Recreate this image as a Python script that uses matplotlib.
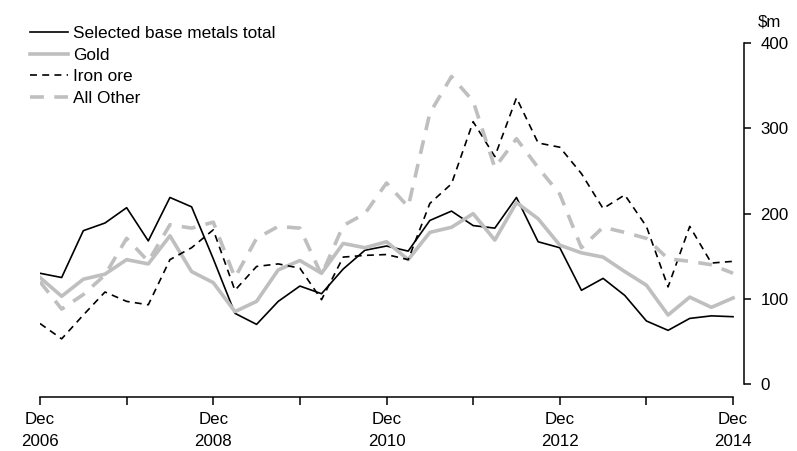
import numpy as np
import pandas as pd
import matplotlib
matplotlib.use('Agg')
import matplotlib.pyplot as plt

plt.rcParams['font.family'] = ['Liberation Sans', 'DejaVu Sans']
plt.rcParams['lines.scale_dashes'] = False

# quarterly, Dec 2006 .. Dec 2014
quarters = pd.period_range('2006Q4', '2014Q4', freq='Q')

base_metals = [130, 125, 180, 189, 207, 168, 219, 208, 147, 83, 70, 97, 115,
               106, 135, 157, 162, 156, 192, 203, 186, 183, 219, 167, 160,
               110, 124, 104, 74, 63, 77, 80, 79]
gold = [125, 103, 123, 129, 146, 141, 174, 132, 119, 85, 97, 134, 145, 130,
        165, 160, 167, 146, 178, 184, 200, 169, 213, 194, 163, 154, 149, 132,
        116, 81, 102, 90, 101]
iron_ore = [71, 53, 81, 108, 97, 93, 146, 160, 181, 110, 138, 141, 136, 99,
            149, 151, 152, 146, 212, 235, 308, 267, 336, 283, 278, 247, 206,
            222, 185, 114, 185, 142, 144]
all_other = [120, 88, 105, 128, 171, 144, 187, 183, 190, 125, 171, 185, 183,
             128, 186, 200, 236, 208, 318, 361, 332, 254, 288, 254, 223, 160,
             184, 178, 171, 147, 144, 140, 130]

labels = ['Selected base metals total', 'Gold', 'Iron ore', 'All Other']
grey = '#bfbfbf'

W, H = 797, 451
fig = plt.figure(figsize=(W / 100, H / 100), dpi=100)
ax = fig.add_axes([40 / W, (H - 384) / H, 704.3 / W, 340.7 / H])

x = np.arange(len(quarters))
ax.plot(x, base_metals, color='black', lw=1.2, label=labels[0])
ax.plot(x, gold, color=grey, lw=2.6, label=labels[1])
ax.plot(x, iron_ore, color='black', lw=1.2, dashes=(5, 3.8), label=labels[2])
ax.plot(x, all_other, color=grey, lw=2.6, dashes=(10, 7.5), label=labels[3])

ax.set_xlim(0, 32.52)
ax.set_ylim(0, 400)

for s in ['left', 'top']:
    ax.spines[s].set_visible(False)
ax.spines['right'].set_bounds(0, 400)
ax.spines['bottom'].set_bounds(0, 32)
ax.spines['bottom'].set_position(('outward', 9.1))
for s in ['right', 'bottom']:
    ax.spines[s].set_linewidth(1.1)

ax.yaxis.tick_right()
ax.set_yticks([0, 100, 200, 300, 400])
ax.tick_params(axis='y', direction='out', length=5.2, width=1.1,
               labelsize=12.2, pad=6.3)

ticks = x[::4]
ax.set_xticks(ticks)
xlabels = []
for k, t in enumerate(ticks):
    if k % 2 == 0:
        xlabels.append('Dec\n' + str(quarters[t].year))
    else:
        xlabels.append('')
ax.set_xticklabels(xlabels, linespacing=1.65)
ax.tick_params(axis='x', direction='out', length=5.8, width=1.1,
               labelsize=12.2, pad=5)

fig.text(769 / W, 1 - 22 / H, '$m', fontsize=12.2, ha='center', va='center')

leg = ax.legend(loc='upper left', bbox_to_anchor=(30 / W, 1 - 26 / H),
                bbox_transform=fig.transFigure, frameon=False,
                fontsize=12.4, handlelength=2.2, handletextpad=0.3,
                labelspacing=0.38, borderpad=0, borderaxespad=0)

fig.savefig('out.png', dpi=100)
